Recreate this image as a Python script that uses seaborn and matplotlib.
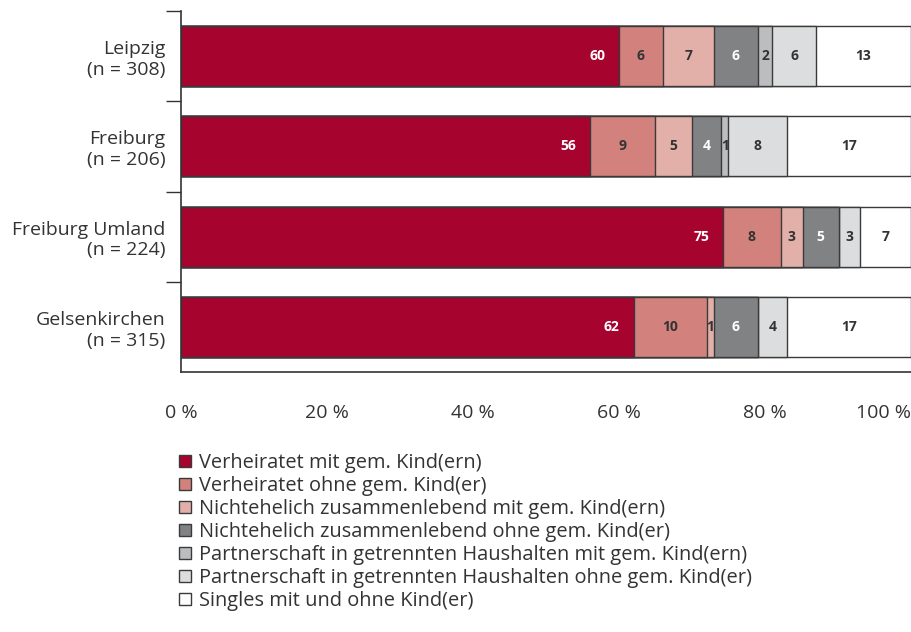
import numpy as np
import pandas as pd
import matplotlib
matplotlib.use("Agg")
import matplotlib.pyplot as plt
from matplotlib.patches import Patch
from matplotlib.ticker import FixedLocator
import seaborn as sns

sns.set_style("white")
plt.rcParams["font.family"] = ["Open Sans", "DejaVu Sans"]

# Daten (Anteile in %)
cities = ["Leipzig\n(n = 308)", "Freiburg\n(n = 206)",
          "Freiburg Umland\n(n = 224)", "Gelsenkirchen\n(n = 315)"]
categories = [
    "Verheiratet mit gem. Kind(ern)",
    "Verheiratet ohne gem. Kind(er)",
    "Nichtehelich zusammenlebend mit gem. Kind(ern)",
    "Nichtehelich zusammenlebend ohne gem. Kind(er)",
    "Partnerschaft in getrennten Haushalten mit gem. Kind(ern)",
    "Partnerschaft in getrennten Haushalten ohne gem. Kind(er)",
    "Singles mit und ohne Kind(er)",
]
verh_mit = [60, 56, 75, 62]
verh_ohne = [6, 9, 8, 10]
ne_mit = [7, 5, 3, 1]
ne_ohne = [6, 4, 5, 6]
getr_mit = [2, 1, 0, 0]
getr_ohne = [6, 8, 3, 4]
singles = [13, 17, 7, 17]

colors = ["#a6032f", "#d3817c", "#e3b0a9", "#818284", "#bcbdbf", "#dcddde", "#ffffff"]
text_colors = ["white", "#333333", "#333333", "white", "#333333", "#333333", "#333333"]
edge = "#3a3a3a"

series = [verh_mit, verh_ohne, ne_mit, ne_ohne, getr_mit, getr_ohne, singles]
vals = np.array(series, dtype=float)           # shape (7, 4)
widths = vals / vals.sum(axis=0) * 100          # rows normalised to 100 %
cum = np.cumsum(widths, axis=0)

fig = plt.figure(figsize=(9.12, 6.32), dpi=100)
ax = fig.add_axes([181 / 912, 1 - 372 / 632, 730 / 912, 361 / 632])

# stacked bars: draw cumulative totals from the back to the front
for i in range(len(categories) - 1, -1, -1):
    df = pd.DataFrame({"city": cities, "value": cum[i]})
    sns.barplot(data=df, x="value", y="city", orient="h", color=colors[i],
                saturation=1, edgecolor=edge, linewidth=1.0, width=0.667, ax=ax)

# value labels
for i in range(len(categories)):
    for j in range(len(cities)):
        if vals[i, j] <= 0:
            continue
        lab = f"{int(vals[i, j])}"
        if i == 0:
            ax.text(cum[i, j] - 1.9, j, lab, ha="right", va="center",
                    fontsize=10, fontweight="bold", color=text_colors[i])
        else:
            x = cum[i, j] - widths[i, j] / 2
            ax.text(x, j, lab, ha="center", va="center",
                    fontsize=10, fontweight="bold", color=text_colors[i])

ax.set_xlim(0, 100)
ax.set_ylim(3.5, -0.5)
ax.set_xlabel("")
ax.set_ylabel("")

ax.set_xticks([0, 20, 40, 60, 80, 100])
ax.set_xticklabels(["0 %", "20 %", "40 %", "60 %", "80 %", "100 %"])
ax.get_xticklabels()[-1].set_ha("right")
ax.xaxis.set_minor_locator(FixedLocator([20, 40, 60, 80]))
ax.tick_params(axis="x", which="major", length=0, pad=23, labelsize=14, labelcolor="#333333")
ax.tick_params(axis="x", which="minor", length=11, width=1, color="#555555", direction="out", bottom=True)

ax.yaxis.set_minor_locator(FixedLocator([-0.5, 0.5, 1.5, 2.5]))
ax.tick_params(axis="y", which="major", length=0, pad=11, labelsize=14, labelcolor="#333333")
ax.tick_params(axis="y", which="minor", length=11, width=1, color="#333333", direction="out", left=True)

for s in ["top", "right"]:
    ax.spines[s].set_visible(False)
for s in ["left", "bottom"]:
    ax.spines[s].set_color("#333333")
    ax.spines[s].set_linewidth(1.2)

handles = [Patch(facecolor=c, edgecolor=edge, linewidth=1.0) for c in colors]
fig.legend(handles, categories, loc="upper left", bbox_to_anchor=(179 / 912, 1 - 453 / 632),
           frameon=False, fontsize=14.4, handlelength=0.6, handleheight=0.6,
           handletextpad=0.42, labelspacing=0.15, borderpad=0, borderaxespad=0,
           labelcolor="#333333")

fig.savefig("out.png", dpi=100)
